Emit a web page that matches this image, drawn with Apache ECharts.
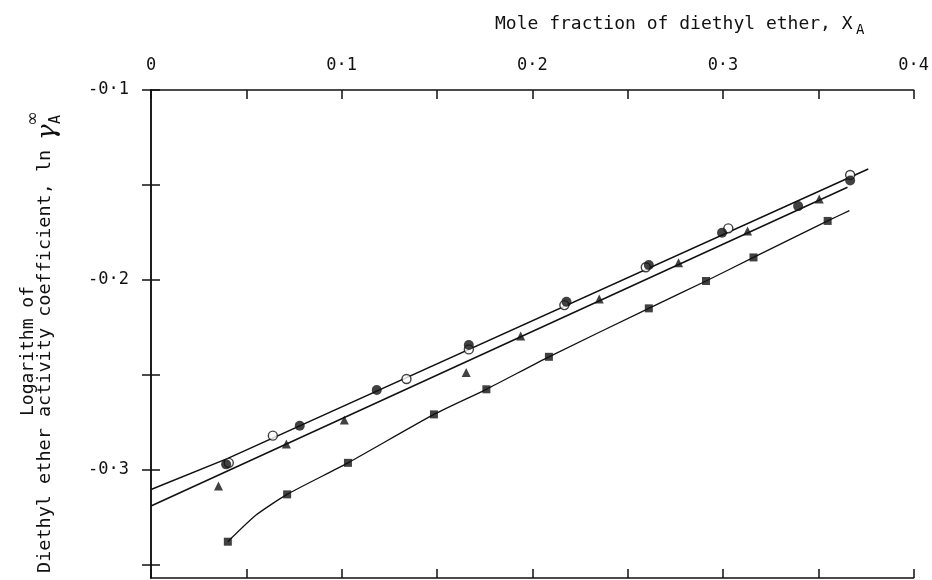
<!DOCTYPE html>
<html><head><meta charset="utf-8">
<script src="https://cdn.jsdelivr.net/npm/echarts@6/dist/echarts.min.js"></script>
<style>html,body{margin:0;padding:0;background:#fff}#c{width:932px;height:580px}</style>
</head><body><div id="c"></div>
<script>
// ---- axis ticks / labels ----
const xTickValues = [0, 0.05, 0.1, 0.15, 0.2, 0.25, 0.3, 0.35, 0.4];
const xLabelValues = [0, 0.1, 0.2, 0.3, 0.4];
const yTickValues = [-0.35, -0.3, -0.25, -0.2, -0.15, -0.1];
const yLabelValues = [-0.3, -0.2, -0.1];

// ---- data ----
// filled circles
const filledX = [0.0394, 0.0780, 0.1184, 0.1667, 0.2179, 0.2611, 0.2995, 0.3394, 0.3667];
const filledY = [-0.2970, -0.2767, -0.2579, -0.2342, -0.2114, -0.1921, -0.1751, -0.1611, -0.1476];
// open circles
const openX = [0.0408, 0.0639, 0.1340, 0.1667, 0.2168, 0.2595, 0.3028, 0.3667];
const openY = [-0.2962, -0.2819, -0.2521, -0.2365, -0.2132, -0.1933, -0.1728, -0.1447];
// triangles
const triX = [0.0354, 0.0710, 0.1014, 0.1653, 0.1939, 0.2351, 0.2767, 0.3129, 0.3505];
const triY = [-0.3084, -0.2863, -0.2737, -0.2486, -0.2295, -0.2100, -0.1909, -0.1742, -0.1574];
// squares
const sqX = [0.0403, 0.0714, 0.1033, 0.1484, 0.1759, 0.2087, 0.2611, 0.2911, 0.3160, 0.3549];
const sqY = [-0.3377, -0.3128, -0.2962, -0.2707, -0.2575, -0.2404, -0.2149, -0.2005, -0.1881, -0.1689];
// drawn curves
const circleLineX = [0, 0.04, 0.3762];
const circleLineY = [-0.3102, -0.2940, -0.1416];
const triLineX = [0, 0.3653];
const triLineY = [-0.3189, -0.1512];
const sqLineX = [0.0403, 0.0551, 0.0714, 0.1033, 0.1484, 0.1759, 0.2087, 0.2611, 0.2911, 0.3160, 0.3549, 0.3663];
const sqLineY = [-0.3377, -0.3237, -0.3128, -0.2962, -0.2707, -0.2575, -0.2404, -0.2149, -0.2005, -0.1881, -0.1689, -0.1635];

const zip = (xs, ys) => xs.map((x, i) => [x, ys[i]]);
const fmt = v => {
  if (Math.abs(v) < 1e-9) return '0';
  return (v < 0 ? '-' : '') + Math.abs(v).toFixed(1).replace('.', '·');
};

const INK = '#111';
const FONT = 'DejaVu Sans Mono';

const chart = echarts.init(document.getElementById('c'), null, { renderer: 'canvas' });

const axisLine = { show: true, lineStyle: { color: INK, width: 1.5 } };
const tick = (vals) => ({ show: true, inside: true, length: 9, customValues: vals, lineStyle: { color: INK, width: 1.5 } });

chart.setOption({
  animation: false,
  backgroundColor: '#fff',
  grid: { left: 151, right: 13, top: 90, bottom: 2 },
  xAxis: [
    {
      type: 'value', position: 'top', min: 0, max: 0.4,
      axisLine, axisTick: tick(xTickValues), splitLine: { show: false },
      axisLabel: { customValues: xLabelValues, formatter: fmt, margin: 16, fontFamily: FONT, fontSize: 17, color: INK }
    },
    {
      type: 'value', position: 'bottom', min: 0, max: 0.4,
      axisLine, axisTick: tick(xTickValues), splitLine: { show: false },
      axisLabel: { show: false }
    }
  ],
  yAxis: [
    {
      type: 'value', position: 'left', min: -0.3568, max: -0.1,
      axisLine, axisTick: tick(yTickValues), splitLine: { show: false },
      axisLabel: { customValues: yLabelValues, formatter: fmt, margin: 22, fontFamily: FONT, fontSize: 17, color: INK }
    },
    {
      type: 'value', position: 'right', min: -0.3568, max: -0.1,
      axisLine, axisTick: tick(yTickValues), splitLine: { show: false },
      axisLabel: { show: false }
    }
  ],
  graphic: [
    { type: 'text', x: 495, y: 24, style: { text: 'Mole fraction of diethyl ether, X', font: '18px "DejaVu Sans Mono"', fill: INK, textAlign: 'left', textVerticalAlign: 'middle' } },
    { type: 'text', x: 856, y: 30, style: { text: 'A', font: '14px "DejaVu Sans Mono"', fill: INK, textAlign: 'left', textVerticalAlign: 'middle' } },
    { type: 'text', x: 28, y: 351, rotation: Math.PI / 2, style: { text: 'Logarithm of', font: '18px "DejaVu Sans Mono"', fill: INK, textAlign: 'center', textVerticalAlign: 'middle' } },
    { type: 'text', x: 45, y: 573, rotation: Math.PI / 2, style: { text: 'Diethyl ether activity coefficient, ln', font: '18.5px "DejaVu Sans Mono"', fill: INK, textAlign: 'left', textVerticalAlign: 'middle' } },
    { type: 'text', x: 48, y: 140, rotation: Math.PI / 2, style: { text: 'γ', font: 'italic 26px "DejaVu Serif"', fill: INK, textAlign: 'left', textVerticalAlign: 'middle' } },
    { type: 'text', x: 33, y: 126, rotation: Math.PI / 2, style: { text: '∞', font: '18px "DejaVu Sans"', fill: INK, textAlign: 'left', textVerticalAlign: 'middle' } },
    { type: 'text', x: 56, y: 124, rotation: Math.PI / 2, style: { text: 'A', font: '15px "DejaVu Sans Mono"', fill: INK, textAlign: 'left', textVerticalAlign: 'middle' } }
  ],
  series: [
    { type: 'line', data: zip(circleLineX, circleLineY), showSymbol: false, symbol: 'none', lineStyle: { color: INK, width: 1.5 }, z: 2, silent: true },
    { type: 'line', data: zip(triLineX, triLineY), showSymbol: false, symbol: 'none', lineStyle: { color: INK, width: 1.5 }, z: 2, silent: true },
    { type: 'line', data: zip(sqLineX, sqLineY), showSymbol: false, symbol: 'none', smooth: 0.2, lineStyle: { color: INK, width: 1.3 }, z: 2, silent: true },
    { type: 'scatter', data: zip(sqX, sqY), symbol: 'rect', symbolSize: 8, itemStyle: { color: INK }, z: 3 },
    { type: 'scatter', data: zip(triX, triY), symbol: 'triangle', symbolSize: 9, itemStyle: { color: INK }, z: 3 },
    { type: 'scatter', data: zip(openX, openY), symbol: 'circle', symbolSize: 9, itemStyle: { color: '#fff', borderColor: INK, borderWidth: 1.4 }, z: 4 },
    { type: 'scatter', data: zip(filledX, filledY), symbol: 'circle', symbolSize: 10, itemStyle: { color: INK }, z: 5 }
  ]
});
</script>
</body></html>
